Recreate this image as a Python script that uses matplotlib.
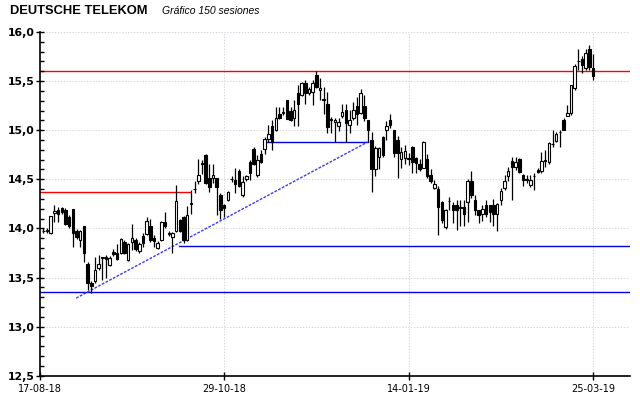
import matplotlib
matplotlib.use("Agg")
import matplotlib.pyplot as plt
import numpy as np

title = "DEUTSCHE TELEKOM"
subtitle = "Gráfico 150 sesiones"

opens = [13.97,13.97,13.95,14.16,14.19,14.21,14.19,14.12,14.20,13.97,
         13.88,14.02,13.64,13.44,13.46,13.60,13.70,13.71,13.63,13.76,
         13.75,13.75,13.86,13.68,13.865,13.88,13.77,13.92,13.94,14.02,
         13.90,13.80,13.88,14.07,13.95,13.91,13.97,14.09,14.12,13.88,
         14.25,14.40,14.48,14.66,14.75,14.51,14.51,14.51,14.34,14.24,
         14.29,14.50,14.49,14.58,14.34,14.50,14.68,14.81,14.54,14.76,
         14.81,14.91,15.04,15.00,15.16,15.18,15.31,15.20,15.12,15.38,
         15.36,15.48,15.38,15.39,15.56,15.41,15.31,15.27,15.10,15.08,
         15.04,15.14,15.21,15.05,15.12,15.25,15.18,15.25,15.10,14.90,
         14.60,14.73,14.93,15.00,15.10,15.00,14.90,14.71,14.72,14.72,
         14.83,14.72,14.66,14.62,14.71,14.54,14.41,14.40,14.27,14.01,
         14.28,14.24,14.24,14.21,14.22,14.27,14.48,14.29,14.19,14.15,
         14.24,14.24,14.24,14.15,14.29,14.41,14.53,14.69,14.63,14.71,
         14.54,14.50,14.44,14.53,14.59,14.58,14.69,14.68,14.86,14.89,
         14.98,15.10,15.14,15.18,15.43,15.70,15.72,15.63,15.83,15.63]
highs = [14.00,14.00,14.13,14.24,14.22,14.22,14.21,14.14,14.20,13.99,
         13.98,14.02,13.66,13.46,13.71,13.73,13.71,13.73,13.72,13.79,
         13.84,13.90,13.88,13.85,14.04,13.90,13.86,13.95,14.12,14.10,
         13.93,13.87,14.08,14.17,13.97,13.96,14.44,14.10,14.13,14.23,
         14.39,14.48,14.71,14.70,14.76,14.66,14.66,14.51,14.36,14.25,
         14.38,14.53,14.61,14.60,14.53,14.54,14.70,14.83,14.75,14.80,
         14.93,15.05,15.10,15.24,15.24,15.24,15.31,15.24,15.31,15.46,
         15.49,15.51,15.44,15.51,15.60,15.53,15.44,15.39,15.13,15.12,
         15.12,15.27,15.27,15.21,15.29,15.34,15.42,15.36,15.10,14.98,
         14.84,14.83,14.94,15.09,15.17,15.00,14.94,14.83,14.85,14.77,
         14.84,14.73,14.71,14.89,14.76,14.60,14.49,14.43,14.28,14.20,
         14.32,14.27,14.29,14.29,14.29,14.50,14.58,14.34,14.19,14.24,
         14.29,14.24,14.30,14.26,14.41,14.54,14.63,14.73,14.73,14.72,
         14.55,14.54,14.54,14.56,14.62,14.78,14.80,14.88,15.00,14.98,
         15.00,15.12,15.26,15.46,15.67,15.83,15.76,15.83,15.87,15.78]
lows = [13.95,13.95,13.94,14.07,14.07,14.15,14.03,14.00,13.81,13.89,
        13.81,13.66,13.37,13.34,13.44,13.58,13.47,13.50,13.62,13.72,
        13.68,13.74,13.74,13.67,13.78,13.77,13.75,13.81,13.93,13.86,
        13.81,13.79,13.87,14.00,13.92,13.75,13.96,13.96,13.85,13.87,
        14.15,14.36,14.45,14.55,14.45,14.37,14.46,14.14,14.10,14.12,
        14.28,14.47,14.36,14.42,14.32,14.48,14.49,14.65,14.52,14.67,
        14.76,14.88,14.80,14.99,15.11,15.15,15.11,15.09,15.04,15.04,
        15.35,15.27,15.36,15.26,15.43,15.31,15.17,14.97,14.97,14.88,
        14.99,15.12,14.88,14.97,15.10,15.05,15.17,15.09,14.88,14.37,
        14.53,14.60,14.73,14.90,15.02,14.73,14.51,14.61,14.66,14.65,
        14.56,14.56,14.58,14.61,14.51,14.46,14.40,13.93,14.06,13.99,
        14.19,14.05,13.98,14.02,14.02,14.07,14.31,14.14,14.05,14.08,
        14.12,14.07,14.02,13.97,14.24,14.39,14.48,14.29,14.59,14.56,
        14.43,14.46,14.42,14.39,14.56,14.56,14.63,14.66,14.83,14.88,
        14.83,15.00,15.14,15.15,15.41,15.61,15.58,15.61,15.61,15.51]
closes = [13.97,13.98,14.13,14.18,14.15,14.17,14.04,14.02,13.95,13.91,
          13.97,13.75,13.44,13.41,13.58,13.64,13.70,13.69,13.70,13.74,
          13.69,13.89,13.75,13.84,13.90,13.79,13.84,13.85,14.08,13.88,
          13.87,13.85,14.07,14.02,13.94,13.95,14.28,13.97,13.88,14.14,
          14.26,14.40,14.54,14.66,14.46,14.42,14.54,14.42,14.19,14.21,
          14.37,14.50,14.45,14.43,14.47,14.53,14.56,14.66,14.70,14.68,
          14.91,14.96,14.88,15.12,15.12,15.18,15.11,15.10,15.21,15.27,
          15.48,15.38,15.42,15.48,15.44,15.43,15.31,15.03,15.11,15.10,
          15.08,15.19,15.07,15.10,15.21,15.17,15.38,15.12,15.00,14.60,
          14.82,14.82,14.75,15.04,15.05,14.77,14.77,14.78,14.79,14.71,
          14.68,14.67,14.60,14.88,14.53,14.48,14.45,14.22,14.09,14.19,
          14.28,14.19,14.19,14.21,14.15,14.48,14.34,14.19,14.14,14.20,
          14.15,14.17,14.15,14.25,14.38,14.48,14.58,14.63,14.68,14.57,
          14.49,14.49,14.49,14.53,14.57,14.69,14.69,14.87,14.86,14.96,
          14.98,15.00,15.18,15.46,15.65,15.70,15.66,15.79,15.64,15.55]

xtick_pos = [-0.9, 49, 99, 149]
xtick_labels = ["17-08-18", "29-10-18", "14-01-19", "25-03-19"]

# horizontal support / resistance lines
red_levels = [15.606, 14.37]
red_starts = [-0.9, -0.9]
red_ends = [159, 39.8]
blue_levels = [13.35, 13.824, 14.88]
blue_starts = [-0.9, 36.8, 60.4]
blue_ends = [159, 159, 87.9]
trend_x = [8.9, 87.9]
trend_y = [13.29, 14.88]

fig = plt.figure(figsize=(6.4, 3.98), dpi=100)
ax = fig.add_axes([40/640, 1-375.7/398, 590/640, (375.7-32)/398])

n = len(opens)
x = np.arange(n)
o = np.array(opens); h = np.array(highs); l = np.array(lows); c = np.array(closes)

ax.set_xlim(-0.9, 159)
ax.set_ylim(12.5, 16.0)

# grid
grid_col = "#dcd6e0"
for yv in np.arange(13.0, 16.01, 0.5):
    ax.axhline(yv, color=grid_col, lw=0.7, ls=(0, (1.5, 1.5)), zorder=0)
for xv in xtick_pos[1:]:
    ax.axvline(xv, color=grid_col, lw=0.7, ls=(0, (1.5, 1.5)), zorder=0)

for lv, s, e in zip(red_levels, red_starts, red_ends):
    ax.plot([s, e], [lv, lv], color="#ff0000", lw=1.0, zorder=1)
for lv, s, e in zip(blue_levels, blue_starts, blue_ends):
    ax.plot([s, e], [lv, lv], color="#0000e0", lw=1.0, zorder=1)
ax.plot(trend_x, trend_y, color="#3a3aff", lw=1.0, ls=(0, (2, 1)), zorder=1)

# candles
ax.vlines(x, l, h, color="black", lw=0.9, zorder=2)
up = c >= o
bottoms = np.minimum(o, c)
heights = np.maximum(np.abs(c - o), 0.004)
ax.bar(x[up], heights[up], bottom=bottoms[up], width=0.68, facecolor="white",
       edgecolor="black", linewidth=0.8, zorder=3)
ax.bar(x[~up], heights[~up], bottom=bottoms[~up], width=0.68, facecolor="black",
       edgecolor="black", linewidth=0.8, zorder=3)

for sp in ["top", "right"]:
    ax.spines[sp].set_visible(False)
ax.spines["left"].set_linewidth(1.2)
ax.spines["bottom"].set_linewidth(1.2)

ax.set_yticks(np.arange(12.5, 16.01, 0.5))
ax.set_yticklabels([f"{v:.1f}".replace(".", ",") for v in np.arange(12.5, 16.01, 0.5)],
                   fontsize=7.8, fontweight="bold", family="DejaVu Sans")
ax.set_yticks(np.arange(12.5, 16.01, 0.1), minor=True)
ax.tick_params(axis="y", which="major", direction="inout", length=6, width=1, pad=1)
ax.tick_params(axis="y", which="minor", direction="in", length=3, width=1)
ax.set_xticks(xtick_pos)
ax.set_xticklabels(xtick_labels, fontsize=7, family="DejaVu Sans")
ax.tick_params(axis="x", which="major", direction="inout", length=6, width=1, pad=3)

fig.text(10/640, 1-11/398, title, fontsize=9.3, fontweight="bold",
         family="Liberation Sans", va="center", ha="left")
fig.text(162/640, 1-11/398, subtitle, fontsize=7.5, style="italic",
         family="Liberation Sans", va="center", ha="left")

fig.savefig("out.png", dpi=100)
